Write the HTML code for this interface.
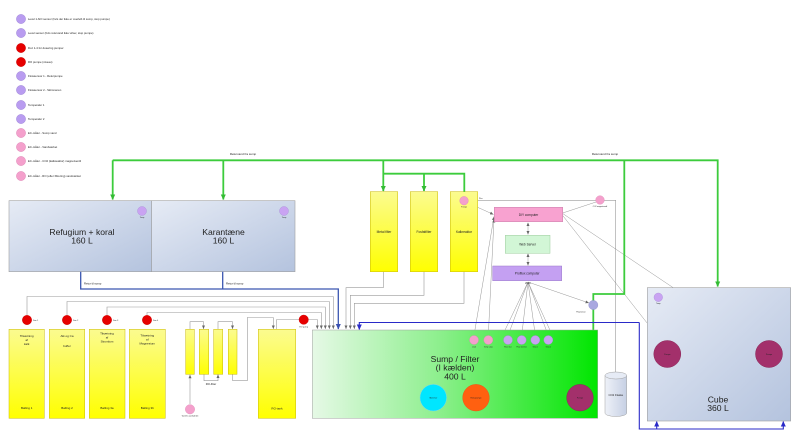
<!DOCTYPE html>
<html>
<head>
<meta charset="utf-8">
<style>
html,body{margin:0;padding:0;background:#fff;width:800px;height:439px;overflow:hidden}
svg{display:block}
text{font-family:"Liberation Sans",sans-serif;fill:#222}
</style>
</head>
<body>
<svg width="800" height="439" viewBox="0 0 800 439" xmlns="http://www.w3.org/2000/svg">
<defs>
  <linearGradient id="tank" x1="0" y1="0" x2="1" y2="1">
    <stop offset="0" stop-color="#e6ebf5"/>
    <stop offset="1" stop-color="#b4c3de"/>
  </linearGradient>
  <linearGradient id="yel" x1="0" y1="0" x2="0" y2="1">
    <stop offset="0" stop-color="#fbfb90"/>
    <stop offset="1" stop-color="#ffff00"/>
  </linearGradient>
  <linearGradient id="sump" x1="0" y1="0" x2="1" y2="0">
    <stop offset="0" stop-color="#e6f9e6"/>
    <stop offset="0.45" stop-color="#8cef8c"/>
    <stop offset="1" stop-color="#00e600"/>
  </linearGradient>
  <linearGradient id="cyl" x1="0" y1="0" x2="1" y2="0">
    <stop offset="0" stop-color="#eef1f8"/>
    <stop offset="1" stop-color="#c6d0e4"/>
  </linearGradient>
  <marker id="ag" markerWidth="6" markerHeight="6" refX="5" refY="3" orient="auto" markerUnits="userSpaceOnUse"><path d="M0,0.5 L5.5,3 L0,5.5 z" fill="#33bb33"/></marker>
  <marker id="ab" markerWidth="6" markerHeight="6" refX="5" refY="3" orient="auto" markerUnits="userSpaceOnUse"><path d="M0,0.5 L5.5,3 L0,5.5 z" fill="#3a50b0"/></marker>
  <marker id="ab2" markerWidth="6" markerHeight="6" refX="5" refY="3" orient="auto" markerUnits="userSpaceOnUse"><path d="M0,0.5 L5.5,3 L0,5.5 z" fill="#2a2ac8"/></marker>
  <marker id="ay" markerWidth="4" markerHeight="4" refX="3.5" refY="2" orient="auto" markerUnits="userSpaceOnUse"><path d="M0,0.5 L3.5,2 L0,3.5 z" fill="#666"/></marker>
  <marker id="ays" markerWidth="4" markerHeight="4" refX="0.5" refY="2" orient="auto" markerUnits="userSpaceOnUse"><path d="M3.5,0.5 L0,2 L3.5,3.5 z" fill="#666"/></marker>
</defs>

<!-- Legend -->
<g font-size="2.8">
  <circle cx="21" cy="19" r="4.6" fill="#b99cf0" stroke="#a088d8" stroke-width="0.5"/><text x="28" y="20">Level 1 AIO sensor (hvis der ikke er overløb til sump, stop pumpe)</text>
  <circle cx="21" cy="33" r="4.6" fill="#b99cf0" stroke="#a088d8" stroke-width="0.5"/><text x="28" y="34">Level sensor (hvis returvand ikke virker, stop pumpe)</text>
  <circle cx="21" cy="48" r="4.6" fill="#e60000" stroke="#c00" stroke-width="0.5"/><text x="28" y="49">Doz 1-4 for dosering pumper</text>
  <circle cx="21" cy="62" r="4.6" fill="#e60000" stroke="#c00" stroke-width="0.5"/><text x="28" y="63">RO pumpe (niveau)</text>
  <circle cx="21" cy="76" r="4.6" fill="#b99cf0" stroke="#a088d8" stroke-width="0.5"/><text x="28" y="77">Flowsensor 1 - Returpumpe</text>
  <circle cx="21" cy="90" r="4.6" fill="#b99cf0" stroke="#a088d8" stroke-width="0.5"/><text x="28" y="91">Flowsensor 2 - Skimmeren</text>
  <circle cx="21" cy="105" r="4.6" fill="#b99cf0" stroke="#a088d8" stroke-width="0.5"/><text x="28" y="106">Temperatur 1</text>
  <circle cx="21" cy="119" r="4.6" fill="#b99cf0" stroke="#a088d8" stroke-width="0.5"/><text x="28" y="120">Temperatur 2</text>
  <circle cx="21" cy="133" r="4.6" fill="#f4a0cc" stroke="#e088b8" stroke-width="0.5"/><text x="28" y="134">EC-måler - Sump vand</text>
  <circle cx="21" cy="147" r="4.6" fill="#f4a0cc" stroke="#e088b8" stroke-width="0.5"/><text x="28" y="148">EC-måler - Vandværket</text>
  <circle cx="21" cy="161" r="4.6" fill="#f4a0cc" stroke="#e088b8" stroke-width="0.5"/><text x="28" y="162">EC-måler - CO2 (kalkreaktor) magnetventil</text>
  <circle cx="21" cy="176" r="4.6" fill="#f4a0cc" stroke="#e088b8" stroke-width="0.5"/><text x="28" y="177">EC-måler - RO (efter filtrering) vandværket</text>
</g>

<!-- Gray connector lines -->
<g fill="none" stroke="#9a9a9a" stroke-width="0.6">
  <path d="M27,315 V296.5 H333.3 V329" marker-end="url(#ay)"/>
  <path d="M67,315 V301.5 H329.3 V329" marker-end="url(#ay)"/>
  <path d="M107,315 V307 H325.3 V329" marker-end="url(#ay)"/>
  <path d="M147,315 V312.5 H321.3 V329" marker-end="url(#ay)"/>
  <path d="M276.7,329 V319.5 H317.3 V329" marker-end="url(#ay)"/>
  <path d="M383.3,271.7 V287.7 H346 V329" marker-end="url(#ay)"/>
  <path d="M424,271.7 V295.3 H350.3 V329" marker-end="url(#ay)"/>
  <path d="M464,271.7 V303.3 H354.3 V329" marker-end="url(#ay)"/>
  <!-- RO filter -->
  <path d="M190,329 V321.7 H203.5 V329" marker-end="url(#ay)"/>
  <path d="M218,329 V321.7 H232.5 V329" marker-end="url(#ay)"/>
  <path d="M204,374.3 V380.7 H218 V374.5" marker-end="url(#ay)"/>
  <path d="M232.7,374.3 V380.7 H247.3 V317.5 H273.3 V329" marker-end="url(#ay)"/>
  <path d="M190,404 V374.8" marker-end="url(#ay)"/>
  <!-- kalkreaktor to CO2 -->
  <path d="M477.7,200.3 H615.7 V372"/>
</g>
<g fill="none" stroke="#8a8a8a" stroke-width="0.45">
  <path d="M466,202 L493.5,214.5" marker-end="url(#ay)"/>
  <path d="M562.7,213 L596,202"/>
  <path d="M474,335.5 L494,216.5" marker-end="url(#ay)"/>
  <path d="M488.3,335.5 L494,219" marker-end="url(#ay)"/>
  <path d="M562.7,215.5 L662,342"/>
  <path d="M562.7,213.5 L760,346"/>
  <path d="M528,223 V234.5" marker-start="url(#ays)" marker-end="url(#ay)"/>
  <path d="M528,254 V265.5" marker-start="url(#ays)" marker-end="url(#ay)"/>
  <path d="M528,282 L508,335.5" marker-end="url(#ay)"/>
  <path d="M528,282 L521.7,335.5" marker-end="url(#ay)"/>
  <path d="M528,282 L535.3,335.5" marker-end="url(#ay)"/>
  <path d="M528,282 L548.3,335.5" marker-end="url(#ay)"/>
  <path d="M528,282 L479,384.5" marker-end="url(#ay)"/>
  <path d="M528,282 L575,385" marker-end="url(#ay)"/>
  <path d="M528,282 L589,303" marker-end="url(#ay)"/>
</g>

<!-- Refugium & Karantæne -->
<rect x="9" y="200.7" width="142.7" height="71" fill="url(#tank)" stroke="#a0a0a0" stroke-width="0.6"/>
<rect x="151.7" y="200.7" width="143.3" height="71" fill="url(#tank)" stroke="#a0a0a0" stroke-width="0.6"/>
<text x="82" y="235" font-size="8.6" text-anchor="middle">Refugium + koral</text>
<text x="82" y="243.5" font-size="8.6" text-anchor="middle">160 L</text>
<text x="223.5" y="235" font-size="8.6" text-anchor="middle">Karantæne</text>
<text x="223.5" y="243.5" font-size="8.6" text-anchor="middle">160 L</text>
<circle cx="142" cy="211" r="4.5" fill="#c9a3f2" stroke="#a88ad8" stroke-width="0.4"/>
<text x="142" y="218" font-size="1.8" text-anchor="middle">Temp</text>
<circle cx="284" cy="211" r="4.5" fill="#c9a3f2" stroke="#a88ad8" stroke-width="0.4"/>
<text x="284" y="218" font-size="1.8" text-anchor="middle">Temp</text>

<!-- Yellow filters -->
<rect x="370.3" y="191.7" width="27.4" height="80" fill="url(#yel)" stroke="#c8b800" stroke-width="0.5"/>
<rect x="410.3" y="191.7" width="27.4" height="80" fill="url(#yel)" stroke="#c8b800" stroke-width="0.5"/>
<rect x="450.3" y="191.7" width="27.4" height="80" fill="url(#yel)" stroke="#c8b800" stroke-width="0.5"/>
<text x="384" y="233" font-size="3.2" text-anchor="middle">Metal filter</text>
<text x="424" y="233" font-size="3.2" text-anchor="middle">Fosfatfilter</text>
<text x="464" y="233" font-size="3.2" text-anchor="middle">Kalkreaktor</text>
<circle cx="464" cy="200.7" r="4.3" fill="#f4a0cc" stroke="#e088b8" stroke-width="0.4"/>
<text x="464" y="207.5" font-size="1.8" text-anchor="middle">Pumpe</text>
<text x="479" y="199" font-size="1.8">Plus</text>

<!-- Computers -->
<rect x="494.3" y="207.3" width="68.4" height="14.4" fill="#f8a2d0" stroke="#c87aa8" stroke-width="0.5"/>
<text x="528.5" y="215.8" font-size="3.2" text-anchor="middle">DIY computer</text>
<rect x="505.3" y="235.3" width="44.7" height="18" fill="#d2f6d6" stroke="#9ccc9c" stroke-width="0.5"/>
<text x="527.6" y="245.5" font-size="3.2" text-anchor="middle">Web Server</text>
<rect x="492.7" y="266" width="69" height="14.7" fill="#c4a0f2" stroke="#9a78c8" stroke-width="0.5"/>
<text x="527.2" y="274.6" font-size="3.2" text-anchor="middle">Profilux computer</text>
<text x="528" y="283.3" font-size="2.2" text-anchor="middle" font-weight="bold">plugs</text>

<circle cx="600" cy="200" r="4.3" fill="#f4a0cc" stroke="#e088b8" stroke-width="0.4"/>
<text x="600" y="207" font-size="1.8" text-anchor="middle">CO2 magnetventil</text>

<!-- Green pipes -->
<g fill="none" stroke="#3ccc3c" stroke-width="1.8">
  <path d="M112.7,160.3 H717.7 V286.5" marker-end="url(#ag)"/>
  <path d="M112.7,160.3 V199.5" marker-end="url(#ag)"/>
  <path d="M223.3,160.3 V199.5" marker-end="url(#ag)"/>
  <path d="M383.3,160.3 V191" marker-end="url(#ag)"/>
  <path d="M383.3,173.7 H464.3 V191.7"/>
  <path d="M424,173.7 V191" marker-end="url(#ag)"/>
  <path d="M624.3,160.3 V294 H593.3 V330"/>
</g>
<text x="243" y="155" font-size="3" text-anchor="middle">Returvand fra sump</text>
<text x="605" y="155" font-size="3" text-anchor="middle">Returvand fra sump</text>

<!-- Blue pipes -->
<g fill="none" stroke="#3a56b0" stroke-width="1.3">
  <path d="M80.7,271.7 V289 H338.3 V329" marker-end="url(#ab)"/>
  <path d="M222.7,271.7 V289"/>
</g>
<text x="84" y="284.5" font-size="2.8">Retur til sump</text>
<text x="226" y="284.5" font-size="2.8">Retur til sump</text>
<g fill="none" stroke="#2a2ac8" stroke-width="1.1">
  <path d="M639.3,322.5 H359.3 V329.5" marker-end="url(#ab2)"/>
  <path d="M639.3,322.5 V429 H783.3 V421.5" marker-end="url(#ab2)"/>
  <path d="M656.7,429 V421.5" marker-end="url(#ab2)"/>
</g>

<!-- Dosing bottles -->
<g>
  <rect x="9" y="329.3" width="35.3" height="89" fill="url(#yel)" stroke="#c8b800" stroke-width="0.5"/>
  <rect x="49.3" y="329.3" width="35.4" height="89" fill="url(#yel)" stroke="#c8b800" stroke-width="0.5"/>
  <rect x="89.3" y="329.3" width="35.7" height="89" fill="url(#yel)" stroke="#c8b800" stroke-width="0.5"/>
  <rect x="129.3" y="329.3" width="36" height="89" fill="url(#yel)" stroke="#c8b800" stroke-width="0.5"/>
</g>
<g font-size="3" text-anchor="middle">
  <text x="26.7" y="337">Tilsætning</text><text x="26.7" y="341">af</text><text x="26.7" y="345">kalk</text>
  <text x="67" y="337">Alk og Ca</text><text x="67" y="347">buffer</text>
  <text x="107" y="334.5">Tilsætning</text><text x="107" y="338.5">af</text><text x="107" y="342.5">Strontium</text>
  <text x="147.3" y="336.5">Tilsætning</text><text x="147.3" y="340.5">af</text><text x="147.3" y="344.5">Magnesium</text>
  <text x="26.7" y="409">Balling 1</text>
  <text x="67" y="409">Balling 2</text>
  <text x="107" y="409">Balling 3a</text>
  <text x="147.3" y="409">Balling 3b</text>
</g>
<g>
  <circle cx="27" cy="320" r="4.7" fill="#e60000" stroke="#c00" stroke-width="0.4"/>
  <circle cx="67" cy="320" r="4.7" fill="#e60000" stroke="#c00" stroke-width="0.4"/>
  <circle cx="107" cy="320" r="4.7" fill="#e60000" stroke="#c00" stroke-width="0.4"/>
  <circle cx="147" cy="320" r="4.7" fill="#e60000" stroke="#c00" stroke-width="0.4"/>
  <circle cx="303.7" cy="319.7" r="4.7" fill="#e60000" stroke="#c00" stroke-width="0.4"/>
</g>
<g font-size="2">
  <text x="33" y="321">Doz 1</text><text x="73" y="321">Doz 2</text><text x="113" y="321">Doz 3</text><text x="153" y="321">Doz 4</text>
  <text x="303.7" y="327.5" text-anchor="middle">RO pump</text>
</g>

<!-- RO filter -->
<rect x="185.7" y="329.3" width="8.6" height="45" fill="url(#yel)" stroke="#c8b800" stroke-width="0.5"/>
<rect x="199.3" y="329.3" width="9.4" height="45" fill="url(#yel)" stroke="#c8b800" stroke-width="0.5"/>
<rect x="213.7" y="329.3" width="9" height="45" fill="url(#yel)" stroke="#c8b800" stroke-width="0.5"/>
<rect x="228.3" y="329.3" width="8.7" height="45" fill="url(#yel)" stroke="#c8b800" stroke-width="0.5"/>
<text x="211" y="385" font-size="2.8" text-anchor="middle">RO-filter</text>
<circle cx="190" cy="409.3" r="4.7" fill="#f4a0cc" stroke="#e088b8" stroke-width="0.4"/>
<text x="190" y="416.5" font-size="1.8" text-anchor="middle">Vand fra vandværket</text>
<rect x="258.3" y="329.3" width="37.4" height="89" fill="url(#yel)" stroke="#c8b800" stroke-width="0.5"/>
<text x="277" y="409.5" font-size="3" text-anchor="middle">RO-tank</text>

<!-- Sump -->
<rect x="312.3" y="330" width="285.4" height="88.3" fill="url(#sump)" stroke="#a0a0a0" stroke-width="0.5"/>
<text x="455" y="362" font-size="8.6" text-anchor="middle">Sump / Filter</text>
<text x="455" y="370.7" font-size="8.6" text-anchor="middle">(I kælden)</text>
<text x="455" y="379.3" font-size="8.6" text-anchor="middle">400 L</text>
<g stroke-width="0.4">
  <circle cx="474" cy="340" r="4.5" fill="#f4a0cc" stroke="#e088b8"/>
  <circle cx="488.3" cy="340" r="4.5" fill="#f4a0cc" stroke="#e088b8"/>
  <circle cx="508" cy="340" r="4.5" fill="#c9a3f2" stroke="#a88ad8"/>
  <circle cx="521.7" cy="340" r="4.5" fill="#c9a3f2" stroke="#a88ad8"/>
  <circle cx="535.3" cy="340" r="4.5" fill="#c9a3f2" stroke="#a88ad8"/>
  <circle cx="548.3" cy="340" r="4.5" fill="#c9a3f2" stroke="#a88ad8"/>
</g>
<g font-size="1.7" text-anchor="middle">
  <text x="474" y="347.3">Level</text>
  <text x="488.3" y="347.3">Temp sump</text>
  <text x="508" y="347.3">Flow retur</text>
  <text x="521.7" y="347.3">Flow skimmer</text>
  <text x="535.3" y="347.3">Temp 1</text>
  <text x="548.3" y="347.3">Temp 2</text>
</g>
<circle cx="433.3" cy="397.7" r="13.3" fill="#00e6ff" stroke="#7fd8e8" stroke-width="0.5"/>
<text x="433.3" y="398.5" font-size="2" text-anchor="middle">Skimmer</text>
<circle cx="476" cy="397.7" r="13.3" fill="#ff6010" stroke="#e85a18" stroke-width="0.5"/>
<text x="476" y="398.5" font-size="2" text-anchor="middle">Returpumpe</text>
<circle cx="580" cy="397.7" r="13.3" fill="#a3306b" stroke="#8a2858" stroke-width="0.5"/>
<text x="580" y="398.5" font-size="2" text-anchor="middle" fill="#eee">Pumpe</text>

<circle cx="593.3" cy="305" r="4.6" fill="#a9a8e0" stroke="#8d8cc8" stroke-width="0.4"/>
<text x="581" y="312.5" font-size="1.8" text-anchor="middle">Flowsensor</text>

<!-- CO2 cylinder -->
<path d="M605,375.5 V413 A10.85,3.5 0 0 0 626.7,413 V375.5" fill="url(#cyl)" stroke="#a0a0a0" stroke-width="0.5"/>
<ellipse cx="615.85" cy="375.5" rx="10.85" ry="3.5" fill="#e6ebf5" stroke="#a0a0a0" stroke-width="0.5"/>
<text x="615.85" y="396" font-size="2.8" text-anchor="middle">CO2 Flaske</text>

<!-- Cube -->
<rect x="647.3" y="287.7" width="143.4" height="133.3" fill="url(#tank)" stroke="#a0a0a0" stroke-width="0.6"/>
<text x="718" y="402.5" font-size="8.6" text-anchor="middle">Cube</text>
<text x="718" y="411" font-size="8.6" text-anchor="middle">360 L</text>
<circle cx="658.3" cy="297.3" r="4.3" fill="#c9a3f2" stroke="#a88ad8" stroke-width="0.4"/>
<text x="658.3" y="304" font-size="1.8" text-anchor="middle">Temp</text>
<circle cx="667.3" cy="354" r="13.5" fill="#a3306b" stroke="#8a2858" stroke-width="0.5"/>
<text x="667.3" y="355" font-size="2" text-anchor="middle" fill="#eee">Pumpe</text>
<circle cx="769" cy="354" r="13.5" fill="#a3306b" stroke="#8a2858" stroke-width="0.5"/>
<text x="769" y="355" font-size="2" text-anchor="middle" fill="#eee">Pumpe</text>
</svg>
</body>
</html>
